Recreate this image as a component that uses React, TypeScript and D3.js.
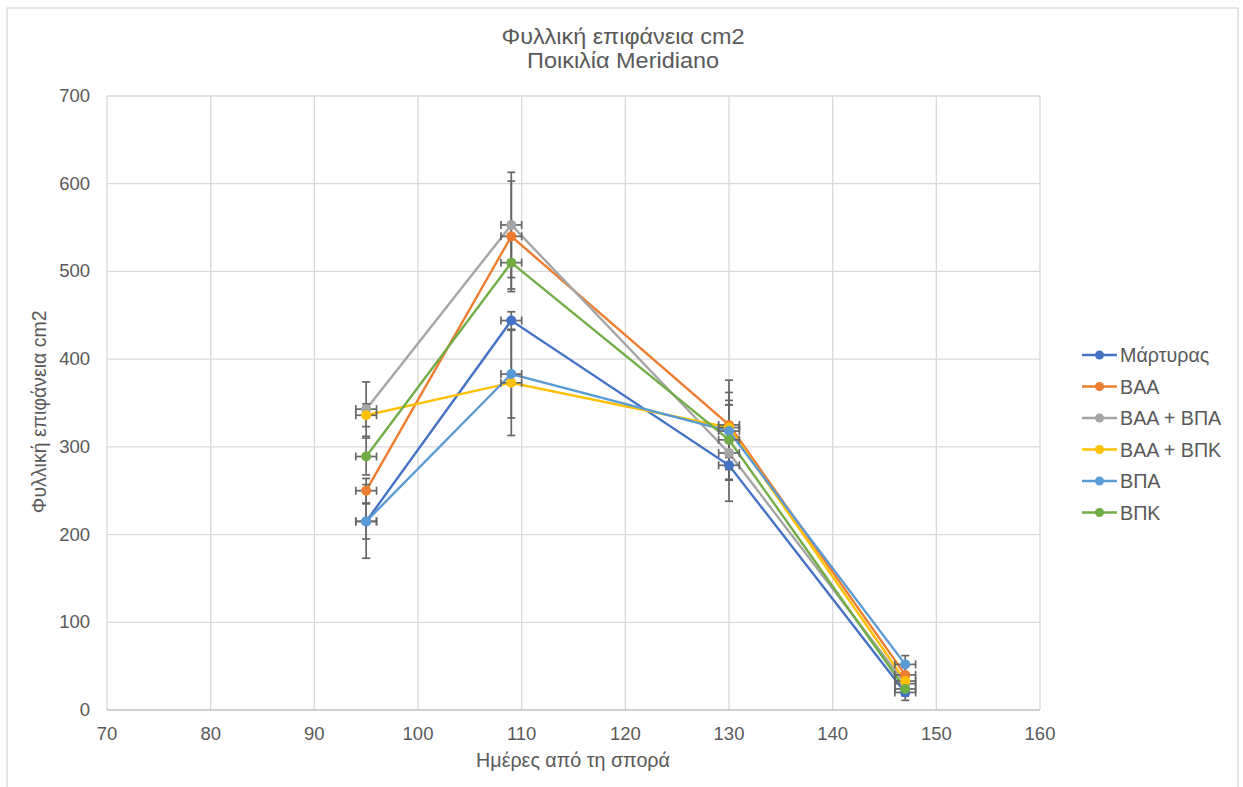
import React from "react";
import * as d3 from "d3";

// Days after sowing
const days = [95, 109, 130, 147];

const seriesNames = ["Μάρτυρας", "ΒΑΑ", "ΒΑΑ + ΒΠΑ", "ΒΑΑ + ΒΠΚ", "ΒΠΑ", "ΒΠΚ"];
const seriesColors = ["#4472C4", "#ED7D31", "#A5A5A5", "#FFC000", "#5B9BD5", "#70AD47"];

// Leaf area (cm2) per treatment
const martyras = [215, 444, 279, 20];
const baa = [250, 540, 325, 40];
const baaBpa = [343, 553, 293, 30];
const baaBpk = [336, 373, 322, 33];
const bpa = [215, 383, 318, 52];
const bpk = [289, 510, 308, 24];

// Vertical error (±) per treatment
const errMartyras = [42, 10, 17, 9];
const errBaa = [14, 63, 51, 10];
const errBaaBpa = [31, 60, 55, 8];
const errBaaBpk = [13, 60, 40, 9];
const errBpa = [20, 50, 30, 10];
const errBpk = [21, 30, 45, 8];

// Horizontal error (± days)
const xErr = 1;

const xTicks = [70, 80, 90, 100, 110, 120, 130, 140, 150, 160];
const yTicks = [0, 100, 200, 300, 400, 500, 600, 700];

const values = [martyras, baa, baaBpa, baaBpk, bpa, bpk];
const errors = [errMartyras, errBaa, errBaaBpa, errBaaBpk, errBpa, errBpk];

const W = 1243;
const H = 787;
const left = 107;
const right = 1040;
const top = 96;
const bottom = 710;

const FONT = "'Liberation Sans', Arial, sans-serif";
const TEXT = "#595959";
const ERR = "#666666";

export default function App() {
  const x = d3.scaleLinear().domain([70, 160]).range([left, right]);
  const y = d3.scaleLinear().domain([0, 700]).range([bottom, top]);
  const line = d3
    .line<number>()
    .x((_, i) => x(days[i]))
    .y((v) => y(v));

  const cap = 4;

  return (
    <svg
      width={W}
      height={H}
      style={{ position: "absolute", left: 0, top: 0, background: "#fff" }}
      fontFamily={FONT}
    >
      <rect x={7} y={8} width={1231} height={800} fill="#fff" stroke="#d9d9d9" strokeWidth={1.3} />

      {/* title */}
      <text x={623} y={44} textAnchor="middle" fontSize={22} fill={TEXT} textLength={243} lengthAdjust="spacingAndGlyphs">
        Φυλλική επιφάνεια cm2
      </text>
      <text x={623} y={68} textAnchor="middle" fontSize={22} fill={TEXT} textLength={192} lengthAdjust="spacingAndGlyphs">
        Ποικιλία Meridiano
      </text>

      {/* grid */}
      {xTicks.map((t) => (
        <line key={"gx" + t} x1={x(t)} x2={x(t)} y1={top} y2={bottom} stroke="#d9d9d9" strokeWidth={1.3} />
      ))}
      {yTicks.map((t) => (
        <line
          key={"gy" + t}
          x1={left}
          x2={right}
          y1={y(t)}
          y2={y(t)}
          stroke={t === 0 ? "#bfbfbf" : "#d9d9d9"}
          strokeWidth={1.3}
        />
      ))}

      {/* tick labels */}
      {xTicks.map((t) => (
        <text key={"tx" + t} x={x(t)} y={bottom + 30} textAnchor="middle" fontSize={18.5} fill={TEXT}>
          {t}
        </text>
      ))}
      {yTicks.map((t) => (
        <text key={"ty" + t} x={left - 17} y={y(t) + 6} textAnchor="end" fontSize={18.5} fill={TEXT}>
          {t}
        </text>
      ))}

      {/* axis titles */}
      <text x={573} y={767} textAnchor="middle" fontSize={19.7} fill={TEXT}>
        Ημέρες από τη σπορά
      </text>
      <text
        transform={`translate(46, ${y(340)}) rotate(-90)`}
        textAnchor="middle"
        fontSize={19.5}
        fill={TEXT}
      >
        Φυλλική επιφάνεια cm2
      </text>

      {/* lines */}
      {values.map((vals, s) => (
        <path key={"l" + s} d={line(vals) || ""} fill="none" stroke={seriesColors[s]} strokeWidth={2.4} />
      ))}

      {/* error bars */}
      {values.map((vals, s) =>
        vals.map((v, i) => {
          const cx = x(days[i]);
          const cy = y(v);
          const e = errors[s][i];
          const yt = y(v + e);
          const yb = y(v - e);
          const xl = x(days[i] - xErr);
          const xr = x(days[i] + xErr);
          return (
            <g key={"e" + s + "-" + i} stroke={ERR} strokeWidth={1.7}>
              <line x1={cx} x2={cx} y1={yt} y2={yb} />
              <line x1={cx - cap} x2={cx + cap} y1={yt} y2={yt} />
              <line x1={cx - cap} x2={cx + cap} y1={yb} y2={yb} />
              <line x1={xl} x2={xr} y1={cy} y2={cy} />
              <line x1={xl} x2={xl} y1={cy - cap} y2={cy + cap} />
              <line x1={xr} x2={xr} y1={cy - cap} y2={cy + cap} />
            </g>
          );
        })
      )}

      {/* markers */}
      {values.map((vals, s) =>
        vals.map((v, i) => (
          <circle key={"m" + s + "-" + i} cx={x(days[i])} cy={y(v)} r={5} fill={seriesColors[s]} />
        ))
      )}

      {/* legend */}
      {seriesNames.map((n, s) => {
        const ly = 355 + s * 31.5;
        return (
          <g key={"lg" + s}>
            <line x1={1082} x2={1117} y1={ly} y2={ly} stroke={seriesColors[s]} strokeWidth={2.4} />
            <circle cx={1099.5} cy={ly} r={4.5} fill={seriesColors[s]} />
            <text x={1120} y={ly + 7} fontSize={19.7} fill={TEXT}>
              {n}
            </text>
          </g>
        );
      })}
    </svg>
  );
}
